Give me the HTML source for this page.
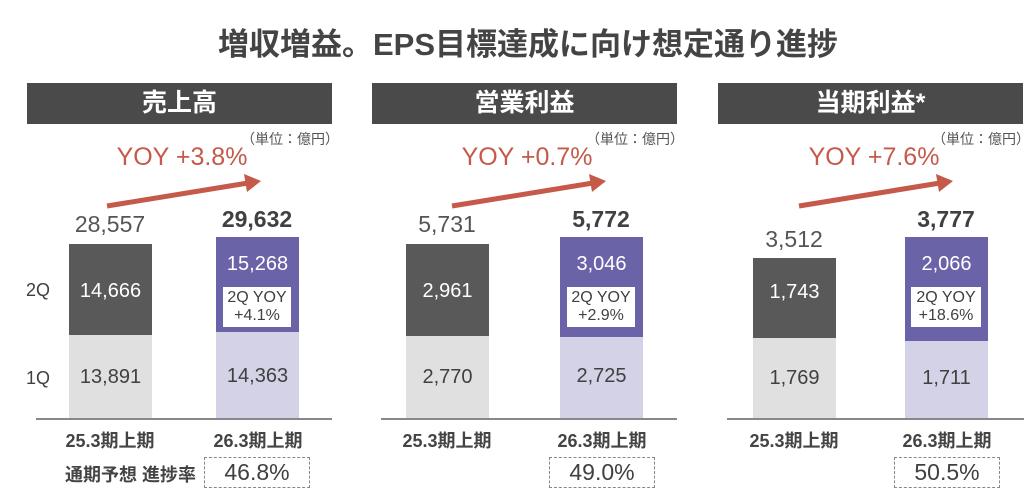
<!DOCTYPE html><html><head><meta charset="utf-8"><style>
body{margin:0;width:1024px;height:501px;background:#fff;position:relative;overflow:hidden;font-family:"Liberation Sans","Noto Sans CJK JP",sans-serif;color:#404040}
div{position:absolute;box-sizing:border-box}
.t{white-space:nowrap;text-align:center}
.hdr{top:83px;height:41px;width:305px;background:#4a4a4a;color:#fff;font-size:25px;font-weight:bold;line-height:41px;text-align:center}
.unit{top:129px;font-size:14px;color:#555}
.yoy{top:143px;font-size:25px;color:#c55a4a;width:200px}
.b{width:83px}
.dk{background:#595959;color:#fff}
.lg{background:#e0e0e0;color:#555}
.pu{background:#6a63a8;color:#fff}
.lp{background:#d4d2e6;color:#555}
.v{font-size:20px;width:83px;text-align:center}
.tot{font-size:23px;width:120px;text-align:center}
.yb{background:#fff;border:1px solid #6a63a8;color:#404040;font-size:16px;line-height:18px;text-align:center;width:70px;height:42px;padding-top:2px}
.ax{height:2px;background:#888}
.cat{top:427px;font-size:18px;font-weight:bold;width:140px;text-align:center;color:#444}
.pr{top:457px;height:31px;width:106px;border:1px dashed #888;font-size:23px;text-align:center;line-height:29px}
</style></head><body>
<div class="t" style="left:0;width:1056px;top:19px;font-size:31px;font-weight:bold;color:#444">増収増益。EPS目標達成に向け想定通り進捗</div>

<div class="hdr" style="left:27px">売上高</div>
<div class="hdr" style="left:372px">営業利益</div>
<div class="hdr" style="left:718px">当期利益*</div>

<div class="unit" style="left:241px">（単位：億円）</div>
<div class="unit" style="left:586px">（単位：億円）</div>
<div class="unit" style="left:932px">（単位：億円）</div>

<div class="yoy t" style="left:82px">YOY +3.8%</div>
<div class="yoy t" style="left:427px">YOY +0.7%</div>
<div class="yoy t" style="left:774px">YOY +7.6%</div>

<svg style="position:absolute;left:0;top:0" width="1024" height="501">
<g fill="#c55a4a" stroke="#c55a4a" stroke-width="5">
<line x1="107" y1="206" x2="248" y2="183"/><polygon stroke="none" points="261,181 244,174 247,192"/>
<line x1="452" y1="206" x2="593" y2="183"/><polygon stroke="none" points="606,181 589,174 592,192"/>
<line x1="799" y1="206" x2="940" y2="183"/><polygon stroke="none" points="953,181 936,174 939,192"/>
</g></svg>

<div class="t" style="left:26px;top:280px;font-size:18px">2Q</div>
<div class="t" style="left:26px;top:368px;font-size:18px">1Q</div>

<!-- panel 1 -->
<div class="tot" style="left:50px;top:211px;color:#555">28,557</div>
<div class="b dk" style="left:69px;top:244px;height:91px"></div>
<div class="v" style="left:69px;top:280px;color:#fff">14,666</div>
<div class="b lg" style="left:69px;top:335px;height:84px"></div>
<div class="v" style="left:69px;top:366px">13,891</div>
<div class="tot" style="left:197px;top:206px;font-weight:bold">29,632</div>
<div class="b pu" style="left:216px;top:237px;height:95px"></div>
<div class="v" style="left:216px;top:253px;color:#fff">15,268</div>
<div class="yb" style="left:222px;top:286px">2Q YOY<br>+4.1%</div>
<div class="b lp" style="left:216px;top:332px;height:87px"></div>
<div class="v" style="left:216px;top:365px">14,363</div>
<div class="ax" style="left:36px;top:418px;width:296px"></div>
<div class="cat" style="left:40px">25.3期上期</div>
<div class="cat" style="left:188px">26.3期上期</div>
<div class="t" style="left:65px;top:461px;font-size:18px;font-weight:bold;color:#444">通期予想 進捗率</div>
<div class="pr" style="left:204px">46.8%</div>

<!-- panel 2 -->
<div class="tot" style="left:387px;top:211px;color:#555">5,731</div>
<div class="b dk" style="left:406px;top:244px;height:92px"></div>
<div class="v" style="left:406px;top:280px;color:#fff">2,961</div>
<div class="b lg" style="left:406px;top:336px;height:83px"></div>
<div class="v" style="left:406px;top:366px">2,770</div>
<div class="tot" style="left:541px;top:206px;font-weight:bold">5,772</div>
<div class="b pu" style="left:560px;top:237px;height:100px"></div>
<div class="v" style="left:560px;top:253px;color:#fff">3,046</div>
<div class="yb" style="left:566px;top:286px">2Q YOY<br>+2.9%</div>
<div class="b lp" style="left:560px;top:337px;height:82px"></div>
<div class="v" style="left:560px;top:365px">2,725</div>
<div class="ax" style="left:381px;top:418px;width:296px"></div>
<div class="cat" style="left:377px">25.3期上期</div>
<div class="cat" style="left:532px">26.3期上期</div>
<div class="pr" style="left:549px">49.0%</div>

<!-- panel 3 -->
<div class="tot" style="left:734px;top:226px;color:#555">3,512</div>
<div class="b dk" style="left:753px;top:258px;height:80px"></div>
<div class="v" style="left:753px;top:281px;color:#fff">1,743</div>
<div class="b lg" style="left:753px;top:338px;height:81px"></div>
<div class="v" style="left:753px;top:367px">1,769</div>
<div class="tot" style="left:886px;top:206px;font-weight:bold">3,777</div>
<div class="b pu" style="left:905px;top:237px;height:104px"></div>
<div class="v" style="left:905px;top:253px;color:#fff">2,066</div>
<div class="yb" style="left:910px;top:286px;width:72px">2Q YOY<br>+18.6%</div>
<div class="b lp" style="left:905px;top:341px;height:78px"></div>
<div class="v" style="left:905px;top:367px">1,711</div>
<div class="ax" style="left:727px;top:418px;width:297px"></div>
<div class="cat" style="left:724px">25.3期上期</div>
<div class="cat" style="left:877px">26.3期上期</div>
<div class="pr" style="left:894px">50.5%</div>
</body></html>
